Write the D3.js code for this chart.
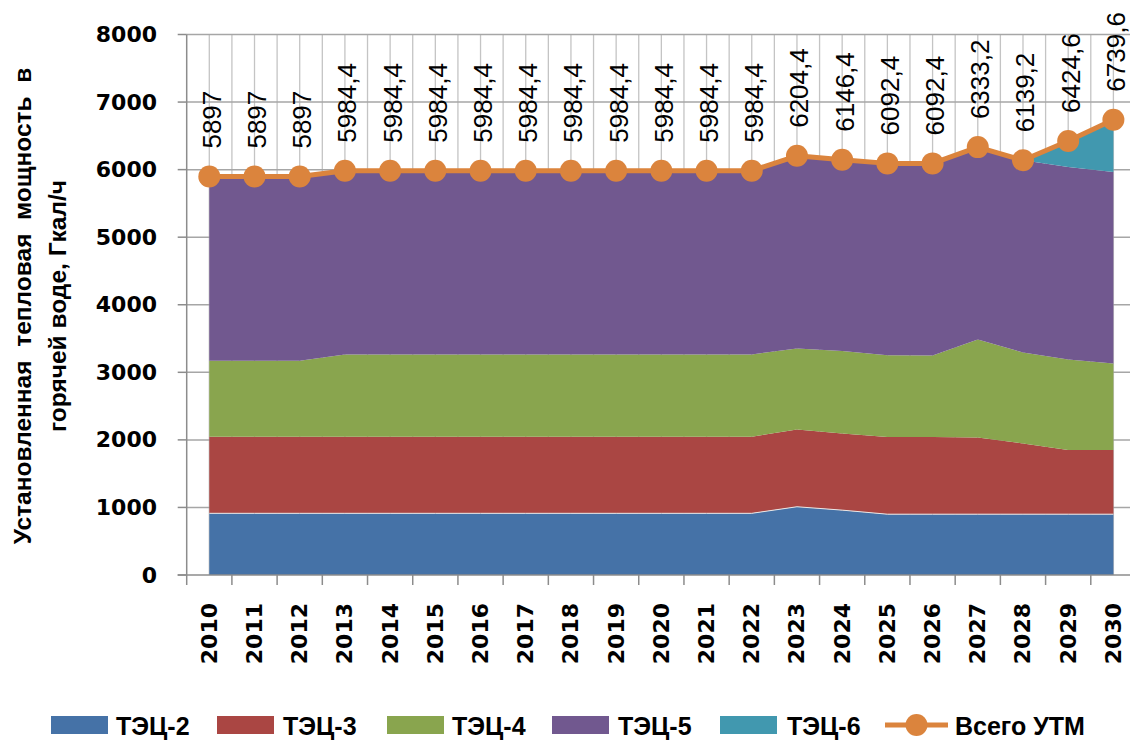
<!DOCTYPE html>
<html><head><meta charset="utf-8">
<script src="https://cdn.jsdelivr.net/npm/d3@7"></script>
<style>
html,body{margin:0;padding:0;background:#fff;}
svg{display:block;}
</style></head>
<body>
<svg id="chart" width="1130" height="740"></svg>
<script>
const years = ["2010","2011","2012","2013","2014","2015","2016","2017","2018","2019","2020","2021","2022","2023","2024","2025","2026","2027","2028","2029","2030"];
const tec2 = [913,913,913,913,913,913,913,913,913,913,913,913,913,1010,960,900,900,900,900,900,900];
const tec3 = [1133,1133,1133,1133,1133,1133,1133,1133,1133,1133,1133,1133,1133,1145,1136,1141,1141,1136,1048,949,949];
const tec4 = [1124,1124,1124,1219,1219,1219,1219,1219,1219,1219,1219,1219,1219,1198,1218,1213,1209,1450,1346,1341,1282];
const tec5 = [2727,2727,2727,2719,2719,2719,2719,2719,2719,2719,2719,2719,2719,2851,2832,2838,2842,2847,2845,2850,2835];
const tec6 = [0,0,0,0,0,0,0,0,0,0,0,0,0,0,0,0,0,0,0,385,774];
const total = [5897,5897,5897,5984.4,5984.4,5984.4,5984.4,5984.4,5984.4,5984.4,5984.4,5984.4,5984.4,6204.4,6146.4,6092.4,6092.4,6333.2,6139.2,6424.6,6739.6];
const yTicks = [0,1000,2000,3000,4000,5000,6000,7000,8000];
const seriesNames = ["ТЭЦ-2","ТЭЦ-3","ТЭЦ-4","ТЭЦ-5","ТЭЦ-6"];
const totalName = "Всего УТМ";
const colors = ["#4572A7","#AA4643","#89A54E","#71588F","#4198AF"];
const lineColor = "#DB843D";

(function(){
const rows = years.map((y,i)=>({year:y, "ТЭЦ-2":tec2[i], "ТЭЦ-3":tec3[i], "ТЭЦ-4":tec4[i], "ТЭЦ-5":tec5[i], "ТЭЦ-6":tec6[i], total: total[i]}));

const svg = d3.select("#chart");
const pL = 186.7, pR = 1136, pT = 34.5, pB = 575;
const x = d3.scaleBand().domain(years).range([pL, pR]);
const xc = d => x(d) + x.bandwidth()/2;
const y = d3.scaleLinear().domain([0,8000]).range([pB, pT]);

const g = svg.append("g");
const vpos = [];
years.forEach(yr => { vpos.push(x(yr)); vpos.push(xc(yr)); });
vpos.push(pR);
g.selectAll("line.vg").data(vpos.slice(1)).enter().append("line")
  .attr("x1", d=>d).attr("x2", d=>d).attr("y1", pT).attr("y2", pB)
  .attr("stroke", "#c4c4c4").attr("stroke-width", 1.3);
g.selectAll("line.hg").data(yTicks.slice(1)).enter().append("line")
  .attr("x1", pL).attr("x2", pR).attr("y1", d=>y(d)).attr("y2", d=>y(d))
  .attr("stroke", "#a6a6a6").attr("stroke-width", 1.5);

const stack = d3.stack().keys(seriesNames);
const layers = stack(rows);
const area = d3.area().x(d=>xc(d.data.year)).y0(d=>y(d[0])).y1(d=>y(d[1]));
svg.append("g").selectAll("path").data(layers).enter().append("path")
  .attr("d", area).attr("fill", (d,i)=>colors[i]);
svg.append("path").datum(layers[0])
  .attr("d", d3.line().x(d=>xc(d.data.year)).y(d=>y(d[1])))
  .attr("fill","none").attr("stroke","#e8e8e8").attr("stroke-width",1);

const ax = svg.append("g");
ax.append("line").attr("x1", pL).attr("x2", pL).attr("y1", pT).attr("y2", pB)
  .attr("stroke","#8c8c8c").attr("stroke-width",1.5);
ax.append("line").attr("x1", pL-9).attr("x2", pR).attr("y1", pB).attr("y2", pB)
  .attr("stroke","#8c8c8c").attr("stroke-width",1.5);
ax.selectAll("line.yt").data(yTicks).enter().append("line")
  .attr("x1", pL-9).attr("x2", pL).attr("y1", d=>y(d)).attr("y2", d=>y(d))
  .attr("stroke","#8c8c8c").attr("stroke-width",1.5);
const xtickPos = years.map(yr=>x(yr));
ax.selectAll("line.xt").data(xtickPos).enter().append("line")
  .attr("x1", d=>d).attr("x2", d=>d).attr("y1", pB).attr("y2", pB+10)
  .attr("stroke","#8c8c8c").attr("stroke-width",1.5);

ax.selectAll("text.yl").data(yTicks).enter().append("text")
  .attr("x", 157).attr("y", d=>y(d)).attr("text-anchor","end").attr("dominant-baseline","central")
  .attr("font-family","DejaVu Sans").attr("font-weight","bold").attr("font-size",22)
  .text(d=>d);
ax.selectAll("text.xl").data(years).enter().append("text")
  .attr("transform", d=>`translate(${xc(d)},603) rotate(-90)`)
  .attr("text-anchor","end").attr("dominant-baseline","central")
  .attr("font-family","DejaVu Sans").attr("font-weight","bold").attr("font-size",22)
  .text(d=>d);

const title = svg.append("text").attr("transform","translate(0,306) rotate(-90)")
  .attr("text-anchor","middle").attr("font-family","'Liberation Sans',Arial,sans-serif").attr("font-weight","bold").attr("font-size",24.5);
title.append("tspan").attr("x",0).attr("y",31).style("white-space","pre").text("Установленная  тепловая  мощность  в");
title.append("tspan").attr("x",0).attr("y",66).text("горячей воде, Гкал/ч");

const line = d3.line().x(d=>xc(d.year)).y(d=>y(d.total));
svg.append("path").datum(rows).attr("d", line).attr("fill","none")
  .attr("stroke", lineColor).attr("stroke-width",5).attr("stroke-linejoin","round");
svg.selectAll("circle.m").data(rows).enter().append("circle")
  .attr("cx", d=>xc(d.year)).attr("cy", d=>y(d.total)).attr("r", 11).attr("fill", lineColor);

const fmt = v => String(v).replace(".", ",");
svg.selectAll("text.dl").data(rows).enter().append("text")
  .attr("transform", d=>`translate(${xc(d.year)+2.5},${y(d.total)-28}) rotate(-90)`)
  .attr("text-anchor","start").attr("dominant-baseline","central")
  .attr("font-family","'Liberation Sans',Arial,sans-serif").attr("font-size",26)
  .text(d=>fmt(d.total));

const legItems = [
  {name:seriesNames[0], c:colors[0], sx:51, tx:116},
  {name:seriesNames[1], c:colors[1], sx:217, tx:283},
  {name:seriesNames[2], c:colors[2], sx:387, tx:452},
  {name:seriesNames[3], c:colors[3], sx:552, tx:618},
  {name:seriesNames[4], c:colors[4], sx:720, tx:787}
];
const leg = svg.append("g");
const legFont = "'Liberation Sans',Arial,sans-serif";
legItems.forEach(it=>{
  leg.append("rect").attr("x", it.sx).attr("y", 716).attr("width",57).attr("height",18).attr("fill", it.c);
  leg.append("text").attr("x", it.tx).attr("y", 735)
    .attr("font-family",legFont).attr("font-weight","bold").attr("font-size",25)
    .text(it.name);
});
leg.append("line").attr("x1",885).attr("x2",948).attr("y1",725).attr("y2",725).attr("stroke",lineColor).attr("stroke-width",5);
leg.append("circle").attr("cx",916.5).attr("cy",725).attr("r",11).attr("fill",lineColor);
leg.append("text").attr("x",955).attr("y",735)
  .attr("font-family",legFont).attr("font-weight","bold").attr("font-size",25)
  .text(totalName);
})();
</script>
</body></html>
